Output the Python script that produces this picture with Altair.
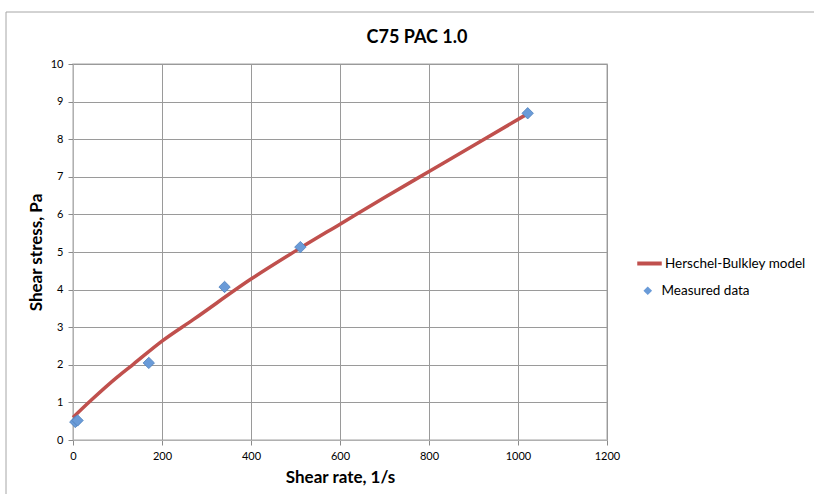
import altair as alt
import pandas as pd

# Measured rheometer readings (Fann speeds) for C75 PAC 1.0
meas_rate = [5.11, 10.22, 170.3, 340.6, 510.9, 1021.8]
meas_stress = [0.48, 0.52, 2.05, 4.07, 5.13, 8.69]

# Herschel-Bulkley model curve
model_rate = [0, 40, 100, 136, 200, 270, 400, 510, 600, 700, 800, 900, 1022]
model_stress = [0.6, 1.05, 1.68, 2.02, 2.63, 3.2, 4.28, 5.1, 5.74, 6.45, 7.14, 7.83, 8.68]

x_ticks = [0, 200, 400, 600, 800, 1000, 1200]
y_ticks = list(range(0, 11))

FONT = "Lato"
GRID = "#9a9a9a"

meas_df = pd.DataFrame({"rate": meas_rate, "stress": meas_stress,
                        "measured": ["Measured data"] * len(meas_rate)})
model_df = pd.DataFrame({"rate": model_rate, "stress": model_stress,
                         "model": ["Herschel-Bulkley model"] * len(model_rate)})

x_enc = alt.X("rate:Q",
              scale=alt.Scale(domain=[0, 1200], nice=False, zero=False),
              axis=alt.Axis(values=x_ticks, title="Shear rate, 1/s", format="d",
                            titleFontSize=17, titleFontWeight="bold",
                            titleFont=FONT, titlePadding=8, labelPadding=5,
                            labelFlush=False, labelOverlap=False))
y_enc = alt.Y("stress:Q",
              scale=alt.Scale(domain=[0, 10], nice=False),
              axis=alt.Axis(values=y_ticks, title="Shear stress, Pa", format="d",
                            titleFontSize=17, titleFontWeight="bold",
                            titleFont=FONT, titlePadding=5, labelPadding=5,
                            labelFlush=False, labelOverlap=False, labelSeparation=0))

model_line = alt.Chart(model_df).mark_line(
    strokeWidth=3.5, interpolate="monotone"
).encode(
    x=x_enc, y=y_enc,
    color=alt.Color("model:N",
                    scale=alt.Scale(domain=["Herschel-Bulkley model"], range=["#c0504d"]),
                    legend=alt.Legend(title=None, orient="none", legendX=562, legendY=185,
                                      symbolType="stroke", symbolStrokeWidth=4,
                                      symbolSize=600, labelFontSize=13.5, labelFont=FONT,
                                      labelColor="#000000", labelOffset=1, padding=0)),
)

meas_points = alt.Chart(meas_df).mark_point(
    filled=True, size=130, fill="#6a9bd8", stroke="#4f81bd", strokeWidth=0.8, opacity=1
).encode(
    x=x_enc, y=y_enc,
    shape=alt.Shape("measured:N",
                    scale=alt.Scale(domain=["Measured data"], range=["diamond"]),
                    legend=alt.Legend(title=None, orient="none", legendX=568, legendY=220,
                                      symbolFillColor="#6a9bd8", symbolStrokeColor="#4f81bd",
                                      symbolStrokeWidth=0.8, symbolSize=75,
                                      labelFontSize=13.5, labelFont=FONT,
                                      labelColor="#000000", labelOffset=7, padding=0)),
)

# Outer chart frame
frame_left = alt.Chart().mark_rule(color="#a6a6a6", strokeWidth=1, clip=False).encode(
    x=alt.value(-67), y=alt.value(-52), y2=alt.value(500))
frame_top = alt.Chart().mark_rule(color="#a6a6a6", strokeWidth=1, clip=False).encode(
    x=alt.value(-67), x2=alt.value(800), y=alt.value(-52))

# Chart heading
heading = alt.Chart().mark_text(
    text="C75 PAC 1.0", font=FONT, fontSize=18, fontWeight="bold",
    color="#000000", align="center", baseline="middle", clip=False
).encode(x=alt.value(344), y=alt.value(-26))

chart = alt.layer(frame_left, frame_top, heading, model_line, meas_points).properties(
    width=534, height=376,
    autosize=alt.AutoSizeParams(type="none"),
    padding={"left": 73, "top": 64, "right": 207, "bottom": 54},
).resolve_scale(color="independent", shape="independent").configure_axis(
    gridColor=GRID, gridWidth=1, domainColor="#b0b0b0", domainWidth=1,
    tickColor="#8a8a8a", tickSize=5, labelFontSize=11, labelFont=FONT,
    labelColor="#000000", titleColor="#000000", labelOverlap=False,
).configure_view(stroke="#c4c4c4", strokeWidth=1.5)

chart.save("out.html", embed_options={"renderer": "svg", "actions": False})
